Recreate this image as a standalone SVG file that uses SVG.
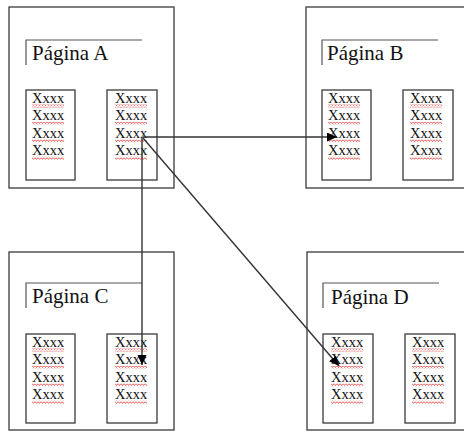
<svg xmlns="http://www.w3.org/2000/svg" width="464" height="431" viewBox="0 0 464 431">
<style>
.outer{fill:none;stroke:#3a3a3a;stroke-width:1.3}
.inner{fill:none;stroke:#3a3a3a;stroke-width:1.3}
.br{fill:none;stroke:#555;stroke-width:1.2}
.title{font-size:21px;fill:#111}
.x{font-size:14.5px;fill:#111}
.sq{fill:url(#wave)}
.conn{fill:none;stroke:#333;stroke-width:1.4}
</style>
<defs>
<pattern id="wave" width="3" height="3" patternUnits="userSpaceOnUse">
<polyline points="0,0.5 1.5,2.5 3,0.5" fill="none" stroke="#e03030" stroke-width="0.8"/>
</pattern>
<marker id="arr" markerUnits="userSpaceOnUse" markerWidth="11" markerHeight="10" refX="10" refY="4.5" orient="auto">
<path d="M0,0 L10,4.5 L0,9 z" fill="#000"/>
</marker>
<g id="col" font-family="Liberation Serif, DejaVu Serif, serif">
<text class="x" x="0" y="0">Xxxx</text>
<text class="x" x="0" y="17.4">Xxxx</text>
<text class="x" x="0" y="34.8">Xxxx</text>
<text class="x" x="0" y="52.2">Xxxx</text>
<rect class="sq" x="0" y="1.5" width="32" height="3"/>
<rect class="sq" x="0" y="18.9" width="32" height="3"/>
<rect class="sq" x="0" y="36.3" width="32" height="3"/>
<rect class="sq" x="0" y="53.7" width="32" height="3"/>
</g>
</defs>
<rect width="464" height="431" fill="#fff"/>

<g id="pageA" font-family="Liberation Serif, DejaVu Serif, serif">
<rect class="outer" x="9" y="7" width="165" height="181"/>
<path class="br" d="M26,65 V40 H142"/>
<text class="title" x="32" y="60">Página A</text>
<rect class="inner" x="26" y="90" width="49" height="90"/>
<rect class="inner" x="107" y="90" width="50" height="90"/>
<use href="#col" x="32" y="103"/>
<use href="#col" x="115" y="103"/>
</g>

<g id="pageB" font-family="Liberation Serif, DejaVu Serif, serif">
<rect class="outer" x="306" y="7" width="170" height="181"/>
<path class="br" d="M322,65 V40 H438"/>
<text class="title" x="327" y="60">Página B</text>
<rect class="inner" x="322" y="90" width="49" height="90"/>
<rect class="inner" x="403" y="90" width="50" height="90"/>
<use href="#col" x="328" y="103"/>
<use href="#col" x="410" y="103"/>
</g>

<g id="pageC" font-family="Liberation Serif, DejaVu Serif, serif">
<rect class="outer" x="9" y="252" width="165" height="178"/>
<path class="br" d="M26,308 V283 H142"/>
<text class="title" x="32" y="303">Página C</text>
<rect class="inner" x="26" y="334" width="49" height="89"/>
<rect class="inner" x="107" y="334" width="50" height="89"/>
<use href="#col" x="32" y="347"/>
<use href="#col" x="115" y="347"/>
</g>

<g id="pageD" font-family="Liberation Serif, DejaVu Serif, serif">
<rect class="outer" x="307" y="252" width="170" height="178"/>
<path class="br" d="M323,308 V283 H439"/>
<text class="title" x="331" y="304">Página D</text>
<rect class="inner" x="323" y="334" width="50" height="89"/>
<rect class="inner" x="405" y="334" width="50" height="89"/>
<use href="#col" x="331" y="347"/>
<use href="#col" x="412" y="347"/>
</g>

<g id="connectors">
<line class="conn" x1="143" y1="137" x2="337" y2="137" marker-end="url(#arr)"/>
<line class="conn" x1="142" y1="137" x2="142" y2="365" marker-end="url(#arr)"/>
<line class="conn" x1="143" y1="138" x2="339" y2="366" marker-end="url(#arr)"/>
</g>
</svg>
